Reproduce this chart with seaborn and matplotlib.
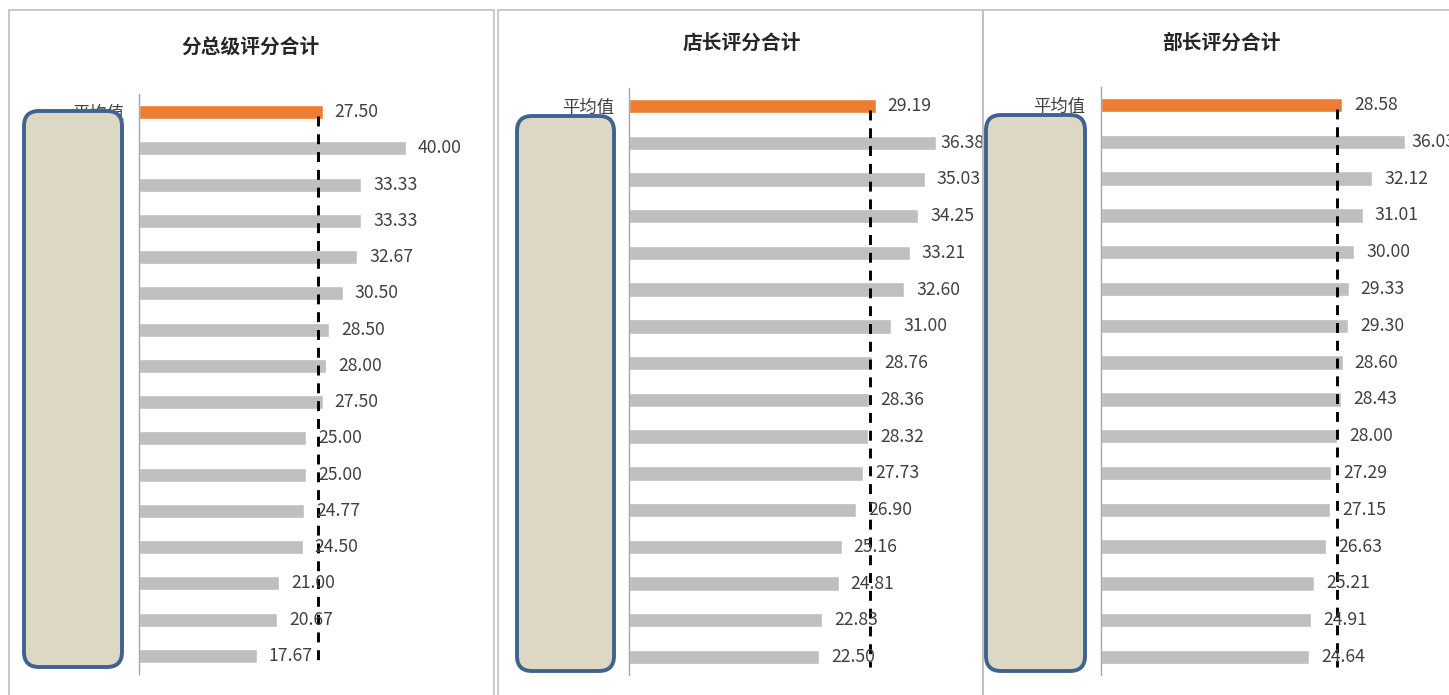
import matplotlib
matplotlib.use("Agg")
import matplotlib.pyplot as plt
from matplotlib.patches import FancyBboxPatch, Rectangle
from matplotlib.transforms import IdentityTransform
import numpy as np
import pandas as pd
import seaborn as sns

sns.set_theme(style="white")
plt.rcParams["font.family"] = ["Noto Sans CJK SC", "DejaVu Sans"]

# ---- data -------------------------------------------------------------
titles = ["分总级评分合计", "店长评分合计", "部长评分合计"]
avg_label = "平均值"
stores = [f"门店{i}" for i in range(1, 16)]

total_scores = [27.50, 40.00, 33.33, 33.33, 32.67, 30.50, 28.50, 28.00,
                27.50, 25.00, 25.00, 24.77, 24.50, 21.00, 20.67, 17.67]
manager_scores = [29.19, 36.38, 35.03, 34.25, 33.21, 32.60, 31.00, 28.76,
                  28.36, 28.32, 27.73, 26.90, 25.16, 24.81, 22.83, 22.50]
minister_scores = [28.58, 36.03, 32.12, 31.01, 30.00, 29.33, 29.30, 28.60,
                   28.43, 28.00, 27.29, 27.15, 26.63, 25.21, 24.91, 24.64]
ref_line = [26.8, 28.5, 28.0]
x_max = [50, 40, 40]

series = [total_scores, manager_scores, minister_scores]

# ---- layout (pixels) ---------------------------------------------------
W, H = 1449, 695
DPI = 100
ORANGE = "#ED7D31"
GREY = "#BFBFBF"
TEXT = "#404040"

# axes boxes: left, top, right, bottom in pixel coords (top-left origin)
axes_px = [
    (139.0, 94.0, 139.0 + 50 * 6.675, 674.0),
    (629.3, 87.6, 629.3 + 40 * 8.44, 675.4),
    (1100.7, 86.6, 1100.7 + 40 * 8.455, 675.4),
]
# right-most pixel a value label may reach inside each chart area
label_limit = [490, 981, 1456]
title_pos = [(251, 47), (742, 43), (1221, 43)]
frames_px = [(9, 10, 494, 720), (498, 10, 983, 720), (983, 10, 1470, 720)]
mask_px = [(24, 111, 122, 667), (517, 116, 614, 671), (986, 115, 1085, 671)]

fig = plt.figure(figsize=(W / DPI, H / DPI), dpi=DPI)
fig.patch.set_facecolor("white")
renderer = fig.canvas.get_renderer()


def fx(x):
    return x / W


def fy(y):
    return 1 - y / H


PX2PT = 72.0 / DPI

for k, vals in enumerate(series):
    l, t, r, b = axes_px[k]
    ax = fig.add_axes([fx(l), fy(b), fx(r) - fx(l), fy(t) - fy(b)])
    names = [avg_label] + stores
    df = pd.DataFrame({"name": names, "score": vals})
    palette = {n: (ORANGE if n == avg_label else GREY) for n in names}
    sns.barplot(data=df, x="score", y="name", hue="name", palette=palette,
                order=names, orient="h", width=0.39, legend=False,
                saturation=1, ax=ax)
    ax.set_xlim(0, x_max[k])
    ax.set_ylim(len(names) - 0.5, -0.5)
    ax.set_xlabel("")
    ax.set_ylabel("")
    ax.set_xticks([])
    ax.set_yticks([0])
    ax.set_yticklabels([avg_label], fontsize=12.5, color=TEXT)
    ax.tick_params(axis="y", length=0, pad=11)
    for s in ["top", "right", "bottom"]:
        ax.spines[s].set_visible(False)
    ax.spines["left"].set_color("#A6A6A6")
    ax.spines["left"].set_linewidth(1.0)
    ax.patch.set_alpha(0)

    for i, v in enumerate(vals):
        ann = ax.annotate(f"{v:.2f}", xy=(v, i), xytext=(12 * PX2PT, 0),
                          textcoords="offset points", va="center", ha="left",
                          fontsize=12.7, color=TEXT, zorder=5)
        # keep the label inside the chart area, as the spreadsheet does
        ext = ann.get_window_extent(renderer)
        overflow = ext.x1 - label_limit[k]
        if overflow > 0:
            gap = max(12 - overflow, 4)
            ann.set_position((gap * PX2PT, 0))

    ax.plot([ref_line[k], ref_line[k]], [0.1, len(names) - 1 + 0.27],
            color="black", lw=2.1, linestyle=(0, (3.4, 2.7)), zorder=4,
            dash_capstyle="butt")

    tx, ty = title_pos[k]
    fig.text(fx(tx), fy(ty), titles[k], ha="center", va="center",
             fontsize=14.2, fontweight="bold", color="#262626")

# panel frames
for (l, t, r, b) in frames_px:
    fig.patches.append(Rectangle((l, H - b), r - l, b - t, fill=False,
                                 edgecolor="#BFBFBF", linewidth=1.2,
                                 transform=IdentityTransform(),
                                 figure=fig, zorder=8))

# label cover boxes
for (l, t, r, b) in mask_px:
    fig.patches.append(FancyBboxPatch((l, H - b), r - l, b - t,
                                      boxstyle="round,pad=0,rounding_size=15",
                                      facecolor="#DDD8C4", edgecolor="#3F6390",
                                      linewidth=2.8,
                                      transform=IdentityTransform(),
                                      figure=fig, zorder=10))

fig.savefig("out.png", dpi=DPI, facecolor="white")
